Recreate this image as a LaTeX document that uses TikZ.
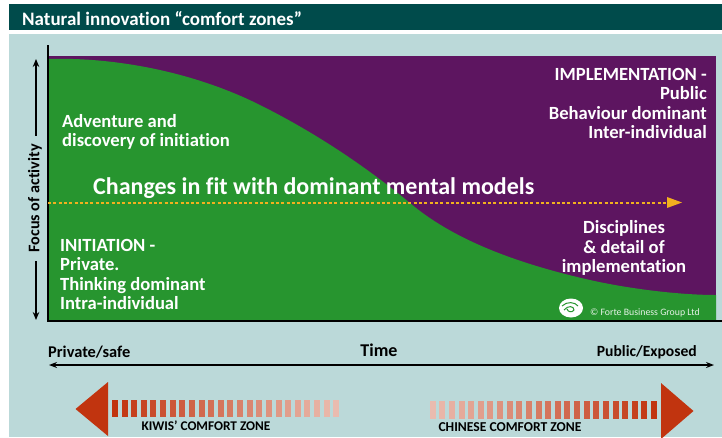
\documentclass[tikz,border=0pt]{standalone}
\usepackage{fontspec}
\setmainfont{Carlito}[Ligatures={NoCommon,NoRare,NoContextual}]
\usetikzlibrary{arrows.meta}
\definecolor{hdr}{HTML}{004B4B}
\definecolor{bgc}{HTML}{BBD9D9}
\definecolor{purp}{HTML}{5D1560}
\definecolor{grn}{HTML}{27952F}
\definecolor{ora}{HTML}{C1340F}
\definecolor{dotc}{HTML}{F2B01E}
\tikzset{
  lab/.style={text=white,font=\fontsize{18.6}{19.5}\selectfont\bfseries,align=left,inner sep=0pt},
  labc/.style={lab,align=center},
  blk/.style={text=black,font=\fontsize{16.4}{18}\selectfont\bfseries,inner sep=0pt},
  small/.style={text=black,font=\fontsize{13.3}{15}\selectfont\bfseries,inner sep=0pt},
  axisline/.style={line width=2pt,black},
  axisarrow/.style={line width=1.5pt,black,-{Stealth[length=8pt,width=6.5pt]}},
}
\begin{document}
\begin{tikzpicture}[x=1pt,y=-1pt]
\useasboundingbox (0,0) rectangle (722,437);
\fill[white] (0,0) rectangle (722,437);
\fill[hdr] (9,4) rectangle (722,30);
\fill[bgc] (9,34) rectangle (722,437);
\node[lab,anchor=west,font=\fontsize{19}{21}\selectfont\bfseries] (title) at (22,19) {Natural innovation “comfort zones”};
% plot
\fill[purp] (48,56) rectangle (716,320);
\fill[grn] (48,320) -- (48,59) .. controls (110,57) and (190,70) .. (260,105)
  .. controls (320,135) and (370,170) .. (410,203)
  .. controls (450,237) and (510,262) .. (590,280)
  .. controls (630,289) and (680,295) .. (716,295) -- (716,320) -- cycle;
\coordinate (axtop) at (48,45);
\coordinate (axcorner) at (48,321);
\coordinate (axright) at (722,321);
\draw[axisline] (axtop) -- (axcorner) -- (axright);
% focus arrow
\coordinate (fa) at (36,200);
\coordinate (fb) at (36,59);
\coordinate (fc) at (36,320);
\draw[axisarrow] (fa) -- (fb);
\draw[axisarrow] (fa) -- (fc);
\node[blk,rotate=90,fill=bgc,inner xsep=8pt,inner ysep=1pt,minimum height=10pt,font=\fontsize{16.2}{18}\selectfont\bfseries] (focus) at (35,198.5) {Focus of activity};
% dotted
\coordinate (da) at (48,202.5);
\coordinate (db) at (682,202.5);
\draw[dotc,line width=2pt,dash pattern=on 3pt off 2.3pt] (da) -- (672,202.5);
\fill[dotc] (667,197) -- (db) -- (667,208) -- cycle;
\node[lab,anchor=west,font=\fontsize{24}{26}\selectfont\bfseries] (changes) at (93,188) {Changes in fit with dominant mental models};
\node[lab,anchor=west] (adv) at (62,132) {Adventure and\\discovery of initiation};
\node[lab,anchor=north west] (init) at (60,239) {INITIATION -\\Private.\\Thinking dominant\\Intra-individual};
\node[lab,anchor=north east,align=right] (impl) at (707,68) {IMPLEMENTATION -\\Public\\Behaviour dominant\\Inter-individual};
\node[labc] (disc) at (624,248) {Disciplines\\\& detail of\\implementation};
% logo
\fill[white] (571,308) ellipse [x radius=12,y radius=9.5];
\draw[grn,line width=1pt] (562,306) .. controls (567,301) and (575,302) .. (578,306);
\draw[grn,line width=1pt] (564,310) .. controls (568,305) and (574,306) .. (574,310) .. controls (572,313) and (568,312) .. (567,309);
\node[text=white!88!grn,font=\fontsize{9.8}{11}\selectfont,inner sep=0pt,anchor=west] (copy) at (590,313) {© Forte Business Group Ltd};
% time axis
\coordinate (ta) at (49,365);
\coordinate (tb) at (714,365);
\draw[line width=1.5pt,black,{Stealth[length=8pt,width=6pt]}-{Stealth[length=8pt,width=6pt]}] (ta) -- (tb);
\node[blk,anchor=west] (priv) at (48,352) {Private/safe};
\node[blk,font=\fontsize{18}{20}\selectfont\bfseries] (time) at (379,350) {Time};
\node[blk,anchor=east,font=\fontsize{15.6}{18}\selectfont\bfseries] (pub) at (697,352) {Public/Exposed};
% left comfort arrow
\fill[ora] (108,382) -- (75.5,409) -- (108,436) -- cycle;
\foreach \i in {0,...,23}{
  \pgfmathsetmacro{\c}{100-2.9*\i}
  \pgfmathsetmacro{\xx}{112+9.62*\i}
  \fill[ora!\c!white] (\xx,400) rectangle ++(6,17);
}
\node[small,anchor=center] (kiwi) at (206,426) {KIWIS’ COMFORT ZONE};
% right comfort arrow
\fill[ora] (661,383) -- (693.5,411) -- (661,439) -- cycle;
\foreach \i in {0,...,23}{
  \pgfmathsetmacro{\c}{100-2.9*\i}
  \pgfmathsetmacro{\xx}{651-9.62*\i}
  \fill[ora!\c!white] (\xx,401) rectangle ++(6,18);
}
\node[small,anchor=center,font=\fontsize{13.6}{15}\selectfont\bfseries] (chin) at (510,427) {CHINESE COMFORT ZONE};
\end{tikzpicture}
\end{document}
